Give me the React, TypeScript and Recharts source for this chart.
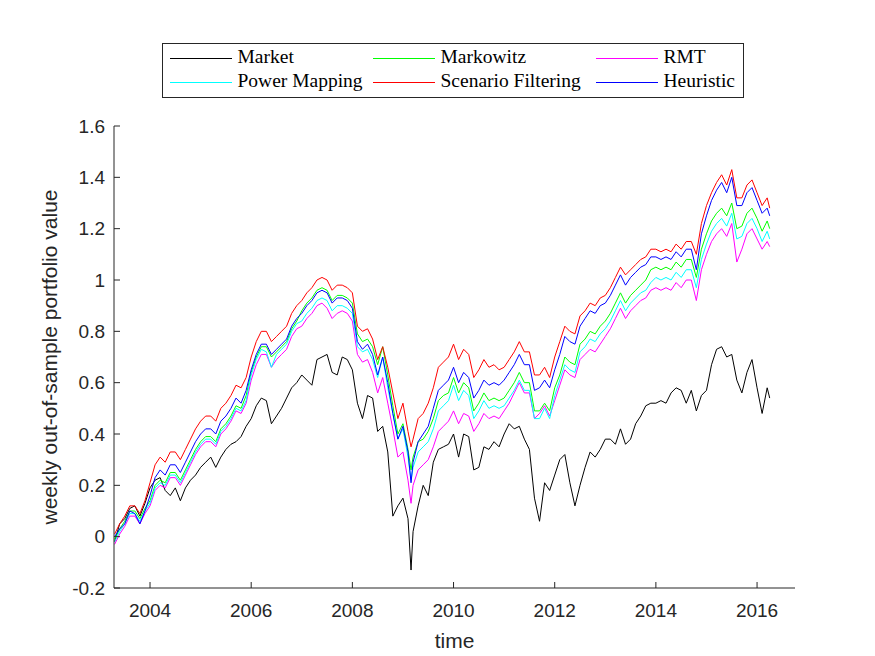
import React from 'react';
import { LineChart, Line, XAxis, YAxis, Legend, Label } from 'recharts';

// time in decimal years
const TIME = [
  2003.3, 2003.4, 2003.5, 2003.6, 2003.7, 2003.8, 2003.9,
  2004.0, 2004.1, 2004.2, 2004.3, 2004.4, 2004.5, 2004.6, 2004.7, 2004.8, 2004.9,
  2005.0, 2005.1, 2005.2, 2005.3, 2005.4, 2005.5, 2005.6, 2005.7, 2005.8, 2005.9,
  2006.0, 2006.1, 2006.2, 2006.3, 2006.4, 2006.5, 2006.6, 2006.7, 2006.8, 2006.9,
  2007.0, 2007.1, 2007.2, 2007.3, 2007.4, 2007.5, 2007.6, 2007.7, 2007.8, 2007.9,
  2008.0, 2008.1, 2008.2, 2008.3, 2008.4, 2008.5, 2008.6, 2008.7, 2008.8, 2008.9,
  2009.0, 2009.1, 2009.16, 2009.2, 2009.3, 2009.4, 2009.5, 2009.6, 2009.7, 2009.8, 2009.9,
  2010.0, 2010.1, 2010.2, 2010.3, 2010.4, 2010.5, 2010.6, 2010.7, 2010.8, 2010.9,
  2011.0, 2011.1, 2011.2, 2011.3, 2011.4, 2011.5, 2011.6, 2011.7, 2011.8, 2011.9,
  2012.0, 2012.1, 2012.2, 2012.3, 2012.4, 2012.5, 2012.6, 2012.7, 2012.8, 2012.9,
  2013.0, 2013.1, 2013.2, 2013.3, 2013.4, 2013.5, 2013.6, 2013.7, 2013.8, 2013.9,
  2014.0, 2014.1, 2014.2, 2014.3, 2014.4, 2014.5, 2014.6, 2014.7, 2014.8, 2014.9,
  2015.0, 2015.1, 2015.2, 2015.3, 2015.4, 2015.5, 2015.6, 2015.7, 2015.8, 2015.9,
  2016.0, 2016.1, 2016.2, 2016.25,
];

const MARKET = [
  -0.02, 0.05, 0.07, 0.11, 0.12, 0.08, 0.13,
  0.19, 0.22, 0.23, 0.18, 0.16, 0.19, 0.14, 0.19, 0.22, 0.24,
  0.27, 0.29, 0.31, 0.27, 0.31, 0.34, 0.36, 0.37, 0.39, 0.43,
  0.46, 0.51, 0.54, 0.53, 0.44, 0.47, 0.50, 0.54, 0.58, 0.60,
  0.63, 0.61, 0.59, 0.69, 0.70, 0.71, 0.64, 0.63, 0.70, 0.69,
  0.65, 0.52, 0.46, 0.55, 0.54, 0.41, 0.43, 0.33, 0.08, 0.12,
  0.15, 0.07, -0.13, 0.02, 0.12, 0.20, 0.16, 0.29, 0.34, 0.35, 0.36,
  0.40, 0.31, 0.40, 0.39, 0.26, 0.27, 0.35, 0.34, 0.37, 0.35,
  0.40, 0.44, 0.42, 0.43, 0.38, 0.34, 0.15, 0.06, 0.21, 0.18,
  0.24, 0.30, 0.32, 0.21, 0.12, 0.20, 0.27, 0.33, 0.31, 0.34,
  0.38, 0.38, 0.36, 0.42, 0.36, 0.38, 0.44, 0.47, 0.51, 0.52,
  0.52, 0.53, 0.52, 0.56, 0.58, 0.57, 0.52, 0.57, 0.49, 0.55,
  0.57, 0.67, 0.73, 0.74, 0.70, 0.71, 0.61, 0.56, 0.64, 0.69,
  0.58, 0.48, 0.58, 0.54,
];

const MARKOWITZ = [
  -0.01, 0.03, 0.06, 0.10, 0.10, 0.07, 0.11,
  0.14, 0.20, 0.22, 0.21, 0.25, 0.25, 0.22, 0.26, 0.30, 0.34,
  0.37, 0.39, 0.39, 0.37, 0.42, 0.44, 0.47, 0.51, 0.50, 0.55,
  0.64, 0.70, 0.74, 0.74, 0.70, 0.72, 0.74, 0.76, 0.81, 0.84,
  0.88, 0.91, 0.93, 0.96, 0.97, 0.96, 0.92, 0.94, 0.94, 0.93,
  0.91, 0.79, 0.76, 0.77, 0.74, 0.67, 0.74, 0.63, 0.51, 0.40,
  0.44, 0.34, 0.26, 0.31, 0.37, 0.38, 0.41, 0.46, 0.53, 0.55, 0.56,
  0.62, 0.56, 0.60, 0.58, 0.49, 0.52, 0.56, 0.53, 0.54, 0.53,
  0.54, 0.57, 0.60, 0.64, 0.60, 0.60, 0.49, 0.49, 0.52, 0.49,
  0.58, 0.63, 0.70, 0.68, 0.67, 0.75, 0.77, 0.80, 0.79, 0.82,
  0.84, 0.87, 0.91, 0.95, 0.91, 0.94, 0.96, 0.98, 1.00, 1.04,
  1.05, 1.04, 1.05, 1.04, 1.07, 1.05, 1.08, 1.08, 1.01, 1.12,
  1.18, 1.23, 1.26, 1.28, 1.25, 1.30, 1.20, 1.21, 1.26, 1.28,
  1.24, 1.19, 1.23, 1.20,
];

const RMT = [
  -0.03, 0.01, 0.04, 0.08, 0.08, 0.05, 0.09,
  0.12, 0.18, 0.20, 0.19, 0.23, 0.23, 0.20, 0.24, 0.28, 0.32,
  0.35, 0.37, 0.37, 0.35, 0.40, 0.42, 0.45, 0.49, 0.48, 0.52,
  0.61, 0.67, 0.71, 0.71, 0.66, 0.69, 0.71, 0.73, 0.78, 0.81,
  0.82, 0.85, 0.87, 0.90, 0.91, 0.89, 0.85, 0.87, 0.88, 0.87,
  0.84, 0.71, 0.68, 0.69, 0.64, 0.56, 0.62, 0.52, 0.42, 0.31,
  0.33, 0.22, 0.13, 0.20, 0.26, 0.28, 0.30, 0.35, 0.41, 0.43, 0.45,
  0.49, 0.44, 0.48, 0.47, 0.41, 0.44, 0.48, 0.46, 0.47, 0.46,
  0.49, 0.52, 0.56, 0.60, 0.56, 0.56, 0.46, 0.48, 0.51, 0.47,
  0.53, 0.59, 0.65, 0.63, 0.62, 0.69, 0.71, 0.73, 0.72, 0.75,
  0.78, 0.81, 0.85, 0.89, 0.85, 0.88, 0.90, 0.92, 0.93, 0.96,
  0.97, 0.96, 0.97, 0.96, 0.99, 0.97, 1.00, 1.00, 0.92, 1.04,
  1.10, 1.15, 1.18, 1.20, 1.17, 1.22, 1.07, 1.12, 1.18, 1.20,
  1.16, 1.12, 1.15, 1.13,
];

const POWER_MAPPING = [
  -0.02, 0.02, 0.05, 0.09, 0.09, 0.06, 0.10,
  0.13, 0.19, 0.21, 0.20, 0.24, 0.24, 0.21, 0.25, 0.29, 0.33,
  0.36, 0.38, 0.38, 0.36, 0.41, 0.43, 0.46, 0.50, 0.49, 0.53,
  0.63, 0.69, 0.73, 0.72, 0.66, 0.71, 0.73, 0.75, 0.80, 0.83,
  0.84, 0.87, 0.89, 0.92, 0.93, 0.92, 0.88, 0.90, 0.90, 0.89,
  0.87, 0.74, 0.72, 0.73, 0.69, 0.62, 0.70, 0.58, 0.48, 0.38,
  0.42, 0.31, 0.22, 0.27, 0.33, 0.35, 0.37, 0.42, 0.49, 0.51, 0.53,
  0.59, 0.53, 0.57, 0.55, 0.46, 0.49, 0.53, 0.50, 0.51, 0.50,
  0.51, 0.54, 0.57, 0.61, 0.57, 0.57, 0.46, 0.46, 0.50, 0.46,
  0.55, 0.61, 0.67, 0.65, 0.64, 0.72, 0.74, 0.77, 0.76, 0.79,
  0.81, 0.84, 0.88, 0.92, 0.88, 0.91, 0.93, 0.95, 0.96, 0.99,
  1.01, 1.00, 1.01, 1.00, 1.03, 1.01, 1.04, 1.04, 0.97, 1.08,
  1.14, 1.19, 1.22, 1.24, 1.21, 1.26, 1.16, 1.17, 1.22, 1.24,
  1.20, 1.15, 1.19, 1.16,
];

const SCENARIO_FILTERING = [
  0.01, 0.05, 0.08, 0.12, 0.12, 0.09, 0.14,
  0.21, 0.28, 0.31, 0.29, 0.33, 0.33, 0.30, 0.34, 0.38, 0.42,
  0.45, 0.47, 0.47, 0.45, 0.50, 0.52, 0.55, 0.59, 0.58, 0.62,
  0.70, 0.76, 0.80, 0.80, 0.76, 0.78, 0.80, 0.82, 0.87, 0.90,
  0.92, 0.95, 0.97, 1.00, 1.01, 1.00, 0.96, 0.98, 0.98, 0.97,
  0.95, 0.82, 0.80, 0.81, 0.77, 0.69, 0.74, 0.66, 0.56, 0.46,
  0.52, 0.41, 0.35, 0.38, 0.46, 0.48, 0.52, 0.58, 0.66, 0.68, 0.70,
  0.75, 0.69, 0.73, 0.71, 0.62, 0.65, 0.69, 0.66, 0.67, 0.65,
  0.66, 0.69, 0.72, 0.76, 0.72, 0.72, 0.63, 0.63, 0.66, 0.62,
  0.70, 0.76, 0.82, 0.80, 0.79, 0.86, 0.88, 0.91, 0.90, 0.93,
  0.94, 0.97, 1.01, 1.05, 1.02, 1.04, 1.06, 1.08, 1.09, 1.12,
  1.12, 1.11, 1.12, 1.11, 1.14, 1.12, 1.15, 1.15, 1.10, 1.22,
  1.29, 1.34, 1.38, 1.41, 1.37, 1.43, 1.32, 1.32, 1.37, 1.39,
  1.34, 1.29, 1.32, 1.28,
];

const HEURISTIC = [
  0.00, 0.03, 0.05, 0.10, 0.09, 0.05, 0.10,
  0.16, 0.23, 0.26, 0.24, 0.28, 0.28, 0.25, 0.29, 0.33, 0.37,
  0.40, 0.42, 0.42, 0.40, 0.45, 0.47, 0.50, 0.54, 0.52, 0.57,
  0.65, 0.71, 0.75, 0.75, 0.71, 0.73, 0.75, 0.77, 0.82, 0.85,
  0.87, 0.90, 0.92, 0.95, 0.96, 0.95, 0.91, 0.93, 0.93, 0.92,
  0.89, 0.76, 0.73, 0.75, 0.71, 0.63, 0.70, 0.60, 0.48, 0.38,
  0.43, 0.33, 0.21, 0.29, 0.37, 0.40, 0.43, 0.50, 0.57, 0.59, 0.61,
  0.66, 0.60, 0.64, 0.62, 0.54, 0.57, 0.61, 0.59, 0.60, 0.59,
  0.61, 0.64, 0.67, 0.71, 0.67, 0.67, 0.57, 0.58, 0.61, 0.58,
  0.65, 0.71, 0.78, 0.76, 0.75, 0.82, 0.85, 0.88, 0.87, 0.90,
  0.91, 0.94, 0.98, 1.02, 0.98, 1.01, 1.03, 1.05, 1.06, 1.09,
  1.09, 1.08, 1.09, 1.08, 1.11, 1.09, 1.12, 1.12, 1.04, 1.18,
  1.25, 1.31, 1.35, 1.38, 1.34, 1.40, 1.29, 1.29, 1.34, 1.36,
  1.31, 1.26, 1.28, 1.25,
];

const X_TICKS = [2004, 2006, 2008, 2010, 2012, 2014, 2016];
const Y_TICKS = [-0.2, 0, 0.2, 0.4, 0.6, 0.8, 1, 1.2, 1.4, 1.6];

const SERIES = [
  { key: 'market', name: 'Market', color: '#000000', values: MARKET },
  { key: 'markowitz', name: 'Markowitz', color: '#00ff00', values: MARKOWITZ },
  { key: 'rmt', name: 'RMT', color: '#ff00ff', values: RMT },
  { key: 'power', name: 'Power Mapping', color: '#00ffff', values: POWER_MAPPING },
  { key: 'scenario', name: 'Scenario Filtering', color: '#ff0000', values: SCENARIO_FILTERING },
  { key: 'heuristic', name: 'Heuristic', color: '#0000ff', values: HEURISTIC },
];

const data = TIME.map((t, i) => {
  const row: Record<string, number> = { t };
  SERIES.forEach((s) => {
    row[s.key] = s.values[i];
  });
  return row;
});

const AXIS_COLOR = '#262626';
const SANS = "'Liberation Sans', Arial, Helvetica, sans-serif";
const SERIF = "'Liberation Serif', 'Times New Roman', serif";

const LEGEND_COL_X = [8, 211, 434];

function LegendBox() {
  return (
    <svg width={582} height={55} style={{ display: 'block' }}>
      <rect x={0.5} y={0.5} width={581} height={54} fill="#ffffff" stroke={AXIS_COLOR} strokeWidth={1} />
      {SERIES.map((s, i) => {
        const col = i % 3;
        const row = Math.floor(i / 3);
        const x0 = LEGEND_COL_X[col];
        const yl = 15.5 + row * 24;
        return (
          <g key={s.key}>
            <line x1={x0} x2={x0 + 62} y1={yl} y2={yl} stroke={s.color} strokeWidth={1} />
            <text x={x0 + 67.5} y={yl + 4.6} fontFamily={SERIF} fontSize={19.5} fill="#000000">
              {s.name}
            </text>
          </g>
        );
      })}
    </svg>
  );
}

export default function App() {
  return (
    <div style={{ position: 'absolute', left: 0, top: 0, width: 875, height: 656, background: '#ffffff' }}>
      <LineChart width={875} height={656} data={data} margin={{ top: 126, right: 80, left: 0, bottom: 0 }}>
        <XAxis
          dataKey="t"
          type="number"
          domain={[2003.288, 2016.75]}
          allowDataOverflow
          ticks={X_TICKS}
          height={68}
          tickSize={-6}
          tickMargin={22}
          axisLine={{ stroke: AXIS_COLOR, strokeWidth: 1 }}
          tickLine={{ stroke: AXIS_COLOR, strokeWidth: 1 }}
          tick={{ fill: AXIS_COLOR, fontSize: 19, fontFamily: SANS }}
        >
          <Label value="time" position="center" dy={19} fill={AXIS_COLOR} fontSize={21} fontFamily={SANS} />
        </XAxis>
        <YAxis
          type="number"
          domain={[-0.2, 1.6]}
          allowDataOverflow
          ticks={Y_TICKS}
          width={114}
          tickSize={-6}
          tickMargin={15}
          tickFormatter={(v: number) => String(Math.round(v * 10) / 10)}
          axisLine={{ stroke: AXIS_COLOR, strokeWidth: 1 }}
          tickLine={{ stroke: AXIS_COLOR, strokeWidth: 1 }}
          tick={{ fill: AXIS_COLOR, fontSize: 19, fontFamily: SANS }}
        >
          <Label
            value="weekly out-of-sample portfolio value"
            position="center"
            angle={-90}
            dx={-7}
            fill={AXIS_COLOR}
            fontSize={21}
            fontFamily={SANS}
          />
        </YAxis>
        <Legend
          layout="horizontal"
          verticalAlign="middle"
          align="center"
          wrapperStyle={{ left: 162, top: 43, width: 582, height: 55 }}
          content={() => <LegendBox />}
        />
        {SERIES.map((s) => (
          <Line
            key={s.key}
            type="linear"
            dataKey={s.key}
            name={s.name}
            stroke={s.color}
            strokeWidth={1}
            dot={false}
            activeDot={false}
            isAnimationActive={false}
          />
        ))}
      </LineChart>
    </div>
  );
}
